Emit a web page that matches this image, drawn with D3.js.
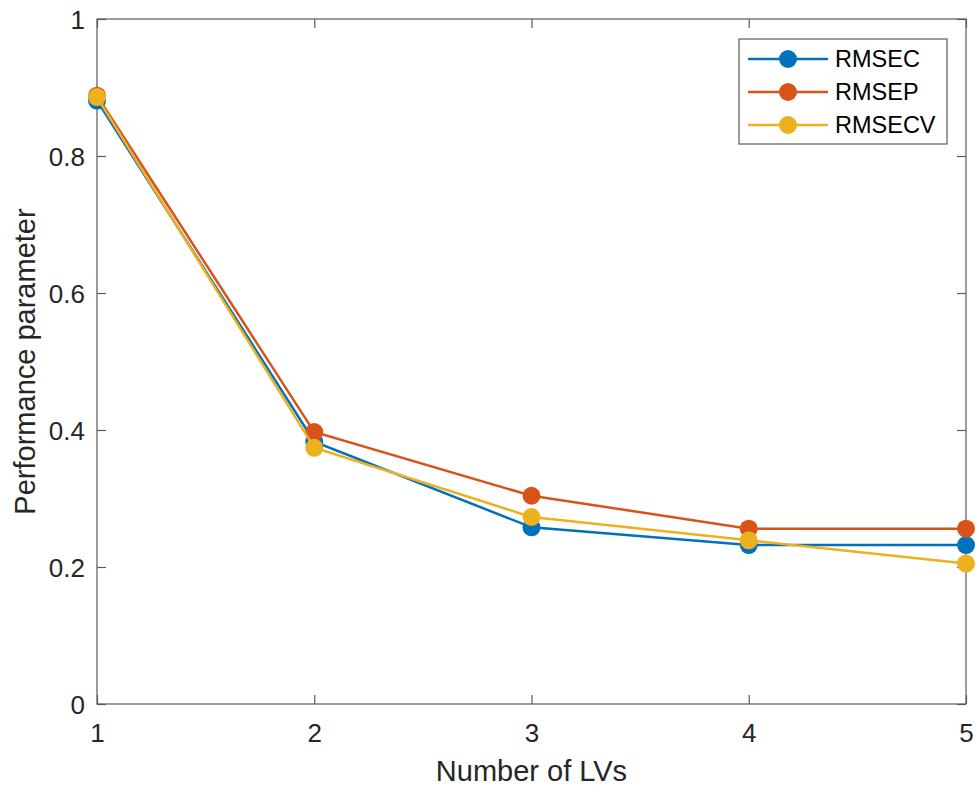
<!DOCTYPE html>
<html><head><meta charset="utf-8">
<script src="https://cdn.jsdelivr.net/npm/d3@7"></script>
<style>body{margin:0;background:#fff}svg{display:block}</style>
</head><body><svg id="c" width="979" height="792"></svg>
<script>
const lvs = [1, 2, 3, 4, 5];
const rmsec  = [0.881, 0.383, 0.258, 0.232, 0.232];
const rmsep  = [0.888, 0.397, 0.304, 0.256, 0.256];
const rmsecv = [0.886, 0.374, 0.273, 0.239, 0.205];
const seriesNames = ["RMSEC", "RMSEP", "RMSECV"];
const seriesColors = ["#0072BD", "#D95319", "#EDB120"];
const xTicks = [1, 2, 3, 4, 5];
const yTicks = [0, 0.2, 0.4, 0.6, 0.8, 1];

const svg = d3.select("#c");
const L = 97, R = 966, T = 19, B = 704;
const x = d3.scaleLinear().domain([1, 5]).range([L, R]);
const y = d3.scaleLinear().domain([0, 1]).range([B, T]);
const font = "'Liberation Sans', Arial, Helvetica, sans-serif";
const axisColor = "#5a5a5a";

svg.append("rect").attr("x", L).attr("y", T).attr("width", R - L).attr("height", B - T)
  .attr("fill", "#fff").attr("stroke", axisColor).attr("stroke-width", 1.2);

const gx = svg.append("g").attr("transform", `translate(0,${B})`)
  .call(d3.axisBottom(x).tickValues(xTicks).tickSize(-9).tickFormat(d3.format("d")));
const gxt = svg.append("g").attr("transform", `translate(0,${T})`)
  .call(d3.axisTop(x).tickValues(xTicks).tickSize(-9).tickFormat(""));
const gy = svg.append("g").attr("transform", `translate(${L},0)`)
  .call(d3.axisLeft(y).tickValues(yTicks).tickSize(-9).tickPadding(12).tickFormat(d => d === 0 || d === 1 ? d3.format("d")(d) : d3.format(".1f")(d)));
const gyr = svg.append("g").attr("transform", `translate(${R},0)`)
  .call(d3.axisRight(y).tickValues(yTicks).tickSize(-9).tickFormat(""));
[gx, gxt, gy, gyr].forEach(g => {
  g.select(".domain").remove();
  g.selectAll(".tick line").attr("stroke", axisColor).attr("stroke-width", 1.2);
  g.selectAll("text").attr("fill", "#262626").style("font-family", font).style("font-size", "26px");
});
gx.selectAll(".tick text").attr("y", 38).attr("dy", 0);
gy.selectAll(".tick text").attr("dy", "0.35em");

svg.append("text").attr("x", (L + R) / 2).attr("y", 781).attr("text-anchor", "middle")
  .attr("fill", "#262626").style("font-family", font).style("font-size", "29px").text("Number of LVs");
svg.append("text").attr("transform", `translate(35,${(T + B) / 2}) rotate(-90)`).attr("text-anchor", "middle")
  .attr("fill", "#262626").style("font-family", font).style("font-size", "29px").text("Performance parameter");

const data = [rmsec, rmsep, rmsecv];
const line = d3.line().x((d, i) => x(lvs[i])).y(d => y(d));
data.forEach((vals, k) => {
  const g = svg.append("g");
  g.append("path").datum(vals).attr("d", line).attr("fill", "none")
    .attr("stroke", seriesColors[k]).attr("stroke-width", 2.5);
  g.selectAll("circle").data(vals).join("circle")
    .attr("cx", (d, i) => x(lvs[i])).attr("cy", d => y(d)).attr("r", 9)
    .attr("fill", seriesColors[k]);
});

// legend
const lg = svg.append("g");
lg.append("rect").attr("x", 739).attr("y", 39).attr("width", 208).attr("height", 105)
  .attr("fill", "#fff").attr("stroke", axisColor).attr("stroke-width", 1.2);
seriesNames.forEach((n, k) => {
  const yy = 59 + k * 33;
  lg.append("line").attr("x1", 748).attr("x2", 828).attr("y1", yy).attr("y2", yy)
    .attr("stroke", seriesColors[k]).attr("stroke-width", 2.5);
  lg.append("circle").attr("cx", 788).attr("cy", yy).attr("r", 9).attr("fill", seriesColors[k]);
  lg.append("text").attr("x", 835).attr("y", yy).attr("dy", "0.36em")
    .attr("fill", "#000").style("font-family", font).style("font-size", "23.5px").text(n);
});
</script></body></html>
